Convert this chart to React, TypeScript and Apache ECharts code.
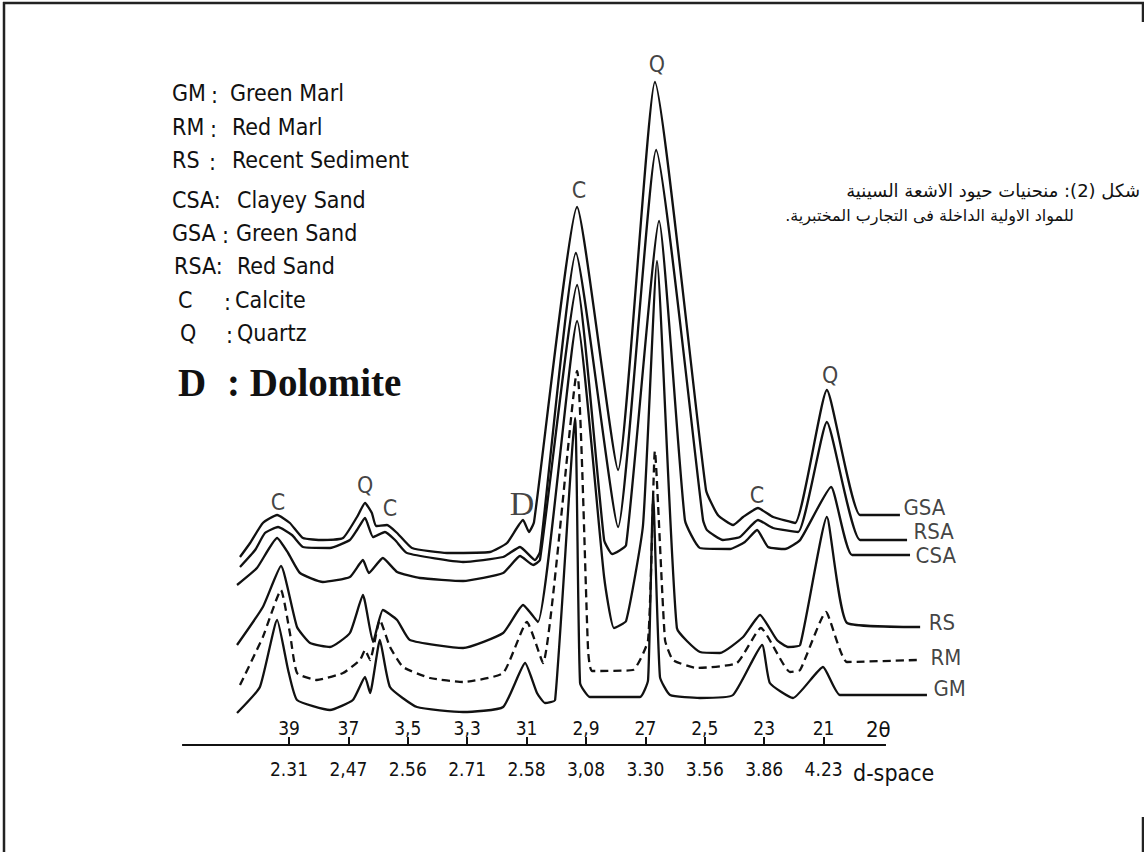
import React, { useEffect, useRef } from "react";
import * as echarts from "echarts";

// ---- axis ticks ----
const TWO_THETA_TICKS = [39, 37, 35, 33, 31, 29, 27, 25, 23, 21];
const TWO_THETA_LABELS = ["39", "37", "3,5", "3,3", "31", "2,9", "27", "2,5", "23", "21"];
const D_SPACE_LABELS = ["2.31", "2,47", "2.56", "2.71", "2.58", "3,08", "3.30", "3.56", "3.86", "4.23"];
const AXIS_LINE = [[42.6, 0], [18.9, 0]];

// ---- diffractograms: [2theta, intensity (offset, arbitrary units)] ----
const GSA = [[40.65,188],[40.31,202],[39.88,222],[39.40,230],[38.97,222],[38.53,207],[37.86,205],[37.18,207],[36.71,228],[36.44,242],[36.21,232],[36.07,219],[35.70,220],[35.36,212],[34.86,197],[33.68,192],[32.23,193],[31.66,202],[31.12,225],[30.92,213],[30.75,223],[29.30,538],[27.92,275],[26.68,663],[24.96,255],[24.56,230],[24.05,220],[23.71,228],[23.21,237],[22.70,228],[21.96,222],[20.89,355],[19.77,230],[18.43,230]];
const RSA = [[40.65,178],[40.14,195],[39.81,212],[39.37,218],[38.90,210],[38.53,198],[37.62,197],[36.95,205],[36.71,215],[36.44,227],[36.17,208],[35.77,213],[35.43,205],[35.03,192],[33.14,183],[31.79,188],[31.22,198],[30.72,185],[30.55,193],[29.34,492],[27.92,218],[26.64,595],[25.06,225],[24.93,215],[24.39,205],[23.82,208],[23.21,225],[22.70,217],[21.86,213],[20.89,323],[19.77,205],[18.19,205]];
const CSA = [[40.75,160],[40.08,177],[39.40,207],[39.03,192],[38.63,172],[37.86,163],[36.95,168],[36.51,185],[36.31,172],[35.84,187],[35.36,173],[34.59,167],[33.14,164],[31.79,172],[31.22,189],[30.78,180],[30.55,185],[29.30,460],[28.39,205],[28.12,191],[27.65,200],[26.54,524],[25.67,225],[25.16,197],[24.15,196],[23.65,203],[23.24,215],[22.87,198],[22.30,196],[21.79,205],[20.75,258],[20.04,190],[18.09,190]];
const RS = [[40.75,100],[39.88,138],[39.27,179],[38.73,118],[38.29,102],[37.62,98],[36.95,112],[36.51,150],[36.17,103],[35.84,135],[35.36,125],[34.93,105],[33.14,97],[31.79,112],[31.12,140],[30.62,123],[29.30,424],[28.39,168],[28.06,117],[27.65,124],[27.08,220],[26.61,484],[25.94,117],[25.16,93],[24.49,92],[23.71,108],[23.14,130],[22.57,105],[22.20,98],[21.79,100],[20.89,228],[20.21,122],[17.75,118]];
const RM = [[40.65,60],[39.88,108],[39.27,155],[38.97,112],[38.73,72],[38.06,65],[37.18,72],[36.61,85],[36.44,95],[36.27,85],[35.94,125],[35.60,98],[35.16,78],[34.25,67],[33.14,63],[31.79,72],[30.99,123],[30.45,82],[29.30,374],[28.93,95],[28.80,74],[27.42,75],[26.91,105],[26.68,294],[26.34,105],[26.07,85],[25.26,77],[23.92,82],[23.11,117],[22.13,73],[21.79,75],[20.92,133],[20.21,83],[17.86,85]];
const GM = [[40.75,32],[39.98,58],[39.40,125],[39.03,75],[38.73,45],[37.62,35],[36.85,45],[36.44,68],[36.27,52],[35.94,105],[35.60,58],[34.69,38],[33.14,33],[31.79,38],[31.05,82],[30.65,52],[30.38,42],[30.04,45],[29.37,327],[29.20,62],[28.87,48],[27.18,48],[26.91,65],[26.74,251],[26.51,68],[26.17,50],[25.16,47],[24.05,50],[23.07,100],[22.81,62],[22.03,47],[21.02,78],[20.45,50],[17.52,50]];

// ---- annotations (anchored in data space) ----
const PEAK_NAMES = ["C", "Q", "C", "D", "C", "Q", "C", "Q"];
const PEAK_POS = [[39.37,243],[36.44,260],[35.60,237],[31.15,242],[29.24,555],[26.61,681],[23.24,250],[20.78,370]];
const CURVE_NAMES = ["GSA", "RSA", "CSA", "RS", "RM", "GM"];
const CURVE_LABEL_POS = [[18.33,238],[17.99,214],[17.92,190],[17.48,123],[17.42,88],[17.32,57]];

const LEGEND_ABBR = ["GM", "RM", "RS", "CSA:", "GSA", "RSA:", "C", "Q"];
const LEGEND_COLON = [":", ":", ":", "", ":", "", ":", ":"];
const LEGEND_DESC = ["Green Marl", "Red Marl", "Recent Sediment", "Clayey Sand", "Green Sand", "Red Sand", "Calcite", "Quartz"];

const ARABIC_1 = "\u200Fشكل (2): منحنيات حيود الاشعة السينية\u200F";
const ARABIC_2 = "\u200Fللمواد الاولية الداخلة فى التجارب المختبرية.\u200F";

const HAND = "'DejaVu Sans Condensed','Liberation Sans Narrow','Roboto Condensed',Roboto,'DejaVu Sans',sans-serif";
const SERIF = "'Liberation Serif','DejaVu Serif',serif";
const INK = "#111";

function txt(text: string, x: number, y: number, size: number, family: string, extra: any = {}) {
  return {
    type: "text",
    x,
    y,
    silent: true,
    style: {
      text,
      fill: INK,
      fontSize: size,
      fontFamily: family,
      align: extra.align || "left",
      textAlign: extra.align || "left",
      verticalAlign: "middle",
      textVerticalAlign: "middle",
      fontWeight: extra.weight || "normal",
    },
  };
}

export default function App() {
  const ref = useRef<HTMLDivElement>(null);

  useEffect(() => {
    const el = ref.current!;
    const chart = echarts.init(el, null, { renderer: "svg" });

    const X_MIN = 16;
    const X_MAX = 42.6;
    const PX_PER_DEG = 29.7;
    const X39 = 289;
    const gridLeft = X39 - (X_MAX - 39) * PX_PER_DEG;
    const gridWidth = (X_MAX - X_MIN) * PX_PER_DEG;

    const fmt = (labels: string[]) => (v: number) => {
      const i = TWO_THETA_TICKS.findIndex((t) => Math.abs(t - v) < 1e-6);
      return i >= 0 ? labels[i] : "";
    };

    const lineBase = {
      type: "line",
      symbol: "none",
      showSymbol: false,
      smooth: 0.15,
      clip: false,
      silent: true,
      xAxisIndex: 0,
      yAxisIndex: 0,
      z: 3,
    };
    const curves = [
      { name: "GSA", data: GSA, dash: "solid" },
      { name: "RSA", data: RSA, dash: "solid" },
      { name: "CSA", data: CSA, dash: "solid" },
      { name: "RS", data: RS, dash: "solid" },
      { name: "RM", data: RM, dash: [8, 5] },
      { name: "GM", data: GM, dash: "solid" },
    ];

    const legendYs = [93, 127, 160, 200, 233, 266, 300, 333];
    const legendAbbrX = [172, 172, 172, 172, 172, 174, 178, 180];
    const legendColonX = [211, 210, 209, 0, 222, 0, 224, 226];
    const legendDescX = [230, 232, 232, 237, 236, 237, 235, 237];
    const legendGraphics: any[] = [];
    LEGEND_ABBR.forEach((a, i) => {
      legendGraphics.push(txt(a, legendAbbrX[i], legendYs[i], 23, HAND));
      if (LEGEND_COLON[i]) legendGraphics.push(txt(LEGEND_COLON[i], legendColonX[i], legendYs[i] + 2, 23, HAND));
      legendGraphics.push(txt(LEGEND_DESC[i], legendDescX[i], legendYs[i], 23, HAND));
    });
    legendGraphics.push(txt("D", 178, 382, 39, SERIF, { weight: "bold" }));
    legendGraphics.push(txt(": Dolomite", 227, 382, 39, SERIF, { weight: "bold" }));

    const frame = [
      { x1: 4, y1: 2, x2: 4, y2: 852 },
      { x1: 3, y1: 3, x2: 1144, y2: 3 },
      { x1: 1143, y1: 2, x2: 1143, y2: 22 },
      { x1: 1143, y1: 817, x2: 1143, y2: 852 },
    ].map((s) => ({ type: "line", shape: s, silent: true, style: { stroke: "#222", lineWidth: 2.5 } }));

    const option: any = {
      animation: false,
      backgroundColor: "#ffffff",
      grid: { left: gridLeft, top: 45, width: gridWidth, height: 700, containLabel: false },
      xAxis: [
        {
          type: "value",
          gridIndex: 0,
          position: "bottom",
          min: X_MIN,
          max: X_MAX,
          inverse: true,
          axisLine: { show: false },
          splitLine: { show: false },
          axisTick: {
            show: true,
            inside: true,
            length: 8,
            customValues: TWO_THETA_TICKS,
            lineStyle: { color: INK, width: 2 },
          },
          axisLabel: {
            show: true,
            inside: true,
            margin: 8,
            customValues: TWO_THETA_TICKS,
            formatter: fmt(TWO_THETA_LABELS),
            fontSize: 19,
            fontFamily: HAND,
            color: INK,
          },
        },
        {
          type: "value",
          gridIndex: 0,
          position: "bottom",
          offset: 0,
          min: X_MIN,
          max: X_MAX,
          inverse: true,
          axisLine: { show: false },
          splitLine: { show: false },
          axisTick: { show: false },
          axisLabel: {
            show: true,
            margin: 14,
            customValues: TWO_THETA_TICKS,
            formatter: fmt(D_SPACE_LABELS),
            fontSize: 19,
            fontFamily: HAND,
            color: INK,
          },
        },
      ],
      yAxis: { type: "value", min: 0, max: 700, show: false },
      series: [
        {
          ...lineBase,
          name: "axis",
          data: AXIS_LINE,
          smooth: false,
          lineStyle: { color: INK, width: 2 },
        },
        ...curves.map((c) => ({
          ...lineBase,
          name: c.name,
          data: c.data,
          lineStyle: { color: INK, width: 2.3, type: c.dash },
        })),
        {
          type: "scatter",
          name: "peaks",
          silent: true,
          symbolSize: 1,
          itemStyle: { color: "rgba(0,0,0,0)" },
          data: PEAK_NAMES.map((n, i) => ({
            name: n,
            value: PEAK_POS[i],
            label: n === "D" ? { fontFamily: SERIF, fontSize: 34 } : undefined,
          })),
          label: {
            show: true,
            position: "inside",
            formatter: "{b}",
            fontSize: 23,
            fontFamily: HAND,
            color: INK,
          },
          z: 5,
        },
        {
          type: "scatter",
          name: "curveNames",
          silent: true,
          symbolSize: 1,
          itemStyle: { color: "rgba(0,0,0,0)" },
          data: CURVE_NAMES.map((n, i) => ({ name: n, value: CURVE_LABEL_POS[i] })),
          label: {
            show: true,
            position: "right",
            distance: 0,
            formatter: "{b}",
            fontSize: 22,
            fontFamily: HAND,
            color: INK,
          },
          z: 5,
        },
      ],
      graphic: [
        ...frame,
        ...legendGraphics,
        txt(ARABIC_1, 1140, 190, 18, "'DejaVu Sans',sans-serif", { align: "right" }),
        txt(ARABIC_2, 1074, 215, 16, "'DejaVu Sans',sans-serif", { align: "right" }),
        txt("2θ", 866, 729, 22, HAND),
        txt("d-space", 853, 773, 23, HAND),
      ],
    };

    chart.setOption(option);
    return () => chart.dispose();
  }, []);

  return (
    <div
      ref={ref}
      style={{ position: "absolute", left: 0, top: 0, width: 1144, height: 852, background: "#fff" }}
    />
  );
}
